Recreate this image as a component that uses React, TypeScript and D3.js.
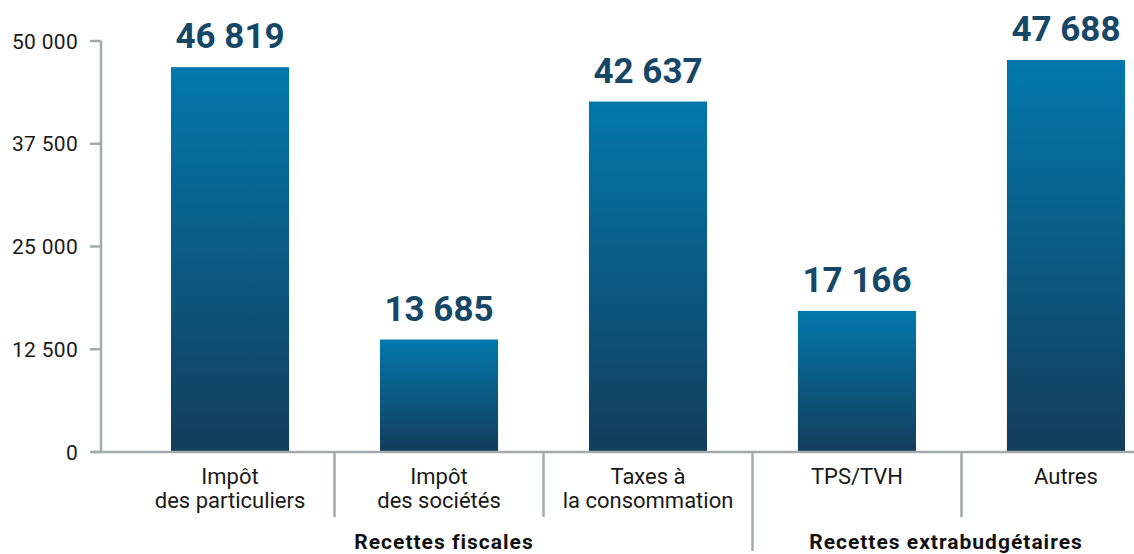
import React from "react";
import * as d3 from "d3";

const categories = ["Impôt|des particuliers", "Impôt|des sociétés", "Taxes à|la consommation", "TPS/TVH", "Autres"];
const values = [46819, 13685, 42637, 17166, 47688];
const valueLabels = ["46 819", "13 685", "42 637", "17 166", "47 688"];
const yTicks = [0, 12500, 25000, 37500, 50000];
const yTickLabels = ["0", "12 500", "25 000", "37 500", "50 000"];
const groups = [
  { label: "Recettes fiscales", from: 0, to: 2 },
  { label: "Recettes extrabudgétaires", from: 3, to: 4 },
];

const W = 1134;
const H = 554;
const FONT = "Roboto, 'Noto Sans', sans-serif";
const AXIS = "#a3aaad";

export default function App() {
  const x = d3.scaleBand<number>().domain(d3.range(categories.length)).range([171, 1125]).paddingInner(0.435).paddingOuter(0);
  const y = d3.scaleLinear().domain([0, 50000]).range([452, 41]);
  const bw = x.bandwidth();
  const gap = x.step() - bw;
  const boundaries = d3.range(1, categories.length).map((i) => (x(i) as number) - gap / 2);
  const groupBoundary = boundaries[2];

  return (
    <svg width={W} height={H} style={{ position: "absolute", left: 0, top: 0, display: "block", background: "#fff" }} fontFamily={FONT}>
      <defs>
        <linearGradient id="barGrad" x1="0" y1="0" x2="0" y2="1">
          <stop offset="0%" stopColor="#0278ab" />
          <stop offset="100%" stopColor="#133c5b" />
        </linearGradient>
      </defs>
      {values.map((v, i) => (
        <rect key={i} x={x(i)} y={y(v)} width={bw} height={y(0) - y(v)} fill="url(#barGrad)" />
      ))}
      {values.map((v, i) => (
        <text key={i} x={(x(i) as number) + bw / 2} y={y(v) - 19} textAnchor="middle" fontSize={35} fontWeight={700} fill="#174766">
          {valueLabels[i]}
        </text>
      ))}
      <line x1={101} x2={101} y1={y(50000)} y2={y(0)} stroke={AXIS} strokeWidth={2.5} />
      {yTicks.map((t, i) => (
        <g key={t}>
          <line x1={90} x2={101} y1={y(t)} y2={y(t)} stroke={AXIS} strokeWidth={2.5} />
          <text x={78} y={y(t) + 7.5} textAnchor="end" fontSize={21} letterSpacing={0.3} fill="#1a1a1a">
            {yTickLabels[i]}
          </text>
        </g>
      ))}
      <line x1={93} x2={W} y1={y(0)} y2={y(0)} stroke={AXIS} strokeWidth={2.5} />
      {boundaries.map((b, i) => (
        <line key={i} x1={b} x2={b} y1={y(0)} y2={b === groupBoundary ? 551 : 517} stroke={AXIS} strokeWidth={2.5} />
      ))}
      {categories.map((c, i) => {
        const lines = c.split("|");
        const cx = (x(i) as number) + bw / 2;
        return (
          <text key={i} x={cx} y={484} textAnchor="middle" fontSize={22} fill="#1a1a1a">
            {lines.map((l, j) => (
              <tspan key={j} x={cx} dy={j === 0 ? 0 : 24}>
                {l}
              </tspan>
            ))}
          </text>
        );
      })}
      <text x={444} y={549} textAnchor="middle" fontSize={21} letterSpacing={1} fontWeight={700} fill="#111">
        {groups[0].label}
      </text>
      <text x={946} y={549} textAnchor="middle" fontSize={21} letterSpacing={1} fontWeight={700} fill="#111">
        {groups[1].label}
      </text>
    </svg>
  );
}
